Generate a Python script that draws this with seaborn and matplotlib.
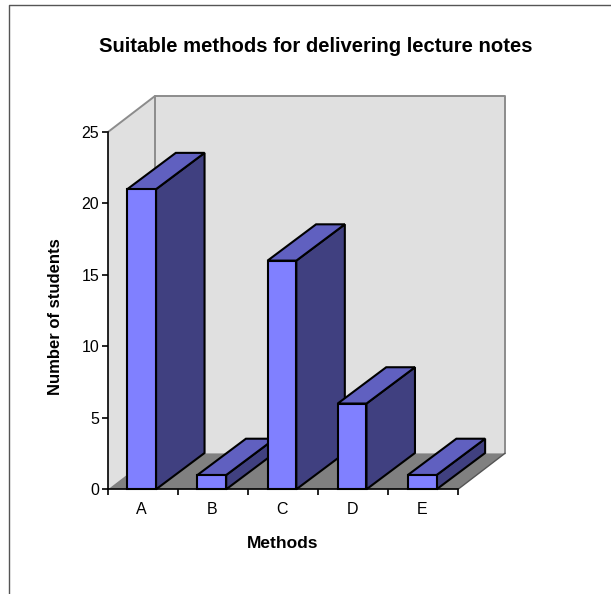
import matplotlib
matplotlib.use("Agg")
import matplotlib.pyplot as plt
from matplotlib.lines import Line2D
from matplotlib.patches import Polygon
import pandas as pd
import seaborn as sns

# values
methods = ["A", "B", "C", "D", "E"]
students = [21, 1, 16, 6, 1]
y_ticks = [0, 5, 10, 15, 20, 25]

FRONT = "#8080FF"
TOP = "#6060C0"
SIDE = "#404080"
WALL = "#E0E0E0"
FLOOR = "#808080"
WALL_EDGE = "#8C8C8C"

W, H = 611, 594

sns.set_style("white")
plt.rcParams["font.family"] = ["Liberation Sans", "DejaVu Sans"]

fig = plt.figure(figsize=(W / 100, H / 100), dpi=100, facecolor="white")

# axes placed by pixel box of the front plane
left, right, top, bottom = 108, 458, 132, 489.3
ax = fig.add_axes([left / W, 1 - bottom / H, (right - left) / W, (bottom - top) / H])
ax.patch.set_alpha(0)

df = pd.DataFrame({"method": methods, "students": students})
sns.barplot(data=df, x="method", y="students", color=FRONT, saturation=1,
            width=0.41, edgecolor="black", linewidth=1.5, ax=ax)
bars = list(ax.containers[0])

xmin, xmax = -0.48, 4.51
ax.set_xlim(xmin, xmax)
ax.set_ylim(0, 25)

# 3d depth converted from pixels to data units
px_x = (xmax - xmin) / (right - left)
px_y = 25 / (bottom - top)
wall_dx, wall_dy = 47 * px_x, 36 * px_y
bar_dx, bar_dy = 48.5 * px_x, 36.3 * px_y

# walls and floor behind the bars
ax.add_patch(Polygon([(xmin, 0), (xmin, 25), (xmin + wall_dx, 25 + wall_dy), (xmin + wall_dx, wall_dy)],
                     closed=True, fc=WALL, ec="none", clip_on=False, zorder=0.5))
ax.add_patch(Polygon([(xmin + wall_dx, wall_dy), (xmin + wall_dx, 25 + wall_dy),
                      (xmax + wall_dx, 25 + wall_dy), (xmax + wall_dx, wall_dy)],
                     closed=True, fc=WALL, ec="none", clip_on=False, zorder=0.5))
ax.add_patch(Polygon([(xmin, 0), (xmin + wall_dx, wall_dy), (xmax + wall_dx, wall_dy), (xmax, 0)],
                     closed=True, fc=FLOOR, ec="none", clip_on=False, zorder=0.6))
ax.plot([xmin, xmin + wall_dx, xmax + wall_dx, xmax + wall_dx],
        [25, 25 + wall_dy, 25 + wall_dy, wall_dy],
        color=WALL_EDGE, lw=1.4, clip_on=False, zorder=0.7)
ax.plot([xmin + wall_dx, xmin + wall_dx], [wall_dy, 25 + wall_dy],
        color=WALL_EDGE, lw=1.4, clip_on=False, zorder=0.7)
ax.plot([xmax, xmax + wall_dx], [0, wall_dy], color="#555555", lw=1, clip_on=False, zorder=0.7)

# side and top faces, built from each seaborn bar, left to right so nearer ones overlap
for i, bar in enumerate(bars):
    x0, x1, h = bar.get_x(), bar.get_x() + bar.get_width(), bar.get_height()
    z = 3 + 2 * i
    ax.add_patch(Polygon([(x1, 0), (x1 + bar_dx, bar_dy), (x1 + bar_dx, h + bar_dy), (x1, h)],
                         closed=True, fc=SIDE, ec="black", lw=1.5, joinstyle="miter",
                         clip_on=False, zorder=z))
    ax.add_patch(Polygon([(x0, h), (x0 + bar_dx, h + bar_dy), (x1 + bar_dx, h + bar_dy), (x1, h)],
                         closed=True, fc=TOP, ec="black", lw=1.5, joinstyle="miter",
                         clip_on=False, zorder=z))
    bar.set_zorder(z + 1)
    bar.set_clip_on(False)

# axes lines and ticks
sns.despine(ax=ax, top=True, right=True)
for s in ["left", "bottom"]:
    ax.spines[s].set_linewidth(1.2)
    ax.spines[s].set_color("black")
    ax.spines[s].set_zorder(20)

ax.set_yticks(y_ticks)
ax.tick_params(axis="y", which="major", left=True, length=4.3, width=1.2, color="black",
               labelsize=11.5, pad=2, labelcolor="black")
ax.set_xticks(range(len(methods)))
ax.set_xticklabels(methods)
ax.tick_params(axis="x", which="major", bottom=False, length=0, labelsize=11.5, pad=9.5, labelcolor="black")
ax.set_xticks([xmin + k * (xmax - xmin) / len(methods) for k in range(len(methods) + 1)], minor=True)
ax.tick_params(axis="x", which="minor", bottom=True, length=4.3, width=1.2, color="black")

ax.set_xlabel("")
ax.set_ylabel("")
fig.text(282.5 / W, 1 - 544 / H, "Methods", fontsize=12.5, fontweight="bold", ha="center", va="center", color="black")
fig.text(55.5 / W, 1 - 317 / H, "Number of students", fontsize=12, fontweight="bold", rotation=90,
         ha="center", va="center", color="black")
fig.text(316 / W, 1 - 46.5 / H, "Suitable methods for delivering lecture notes", fontsize=14.6, fontweight="bold",
         ha="center", va="center", color="black")

# outer chart border, cut off by the crop at right and bottom
fig.add_artist(Line2D([9 / W, 9 / W, 1], [0, 1 - 5 / H, 1 - 5 / H], color="#555555", lw=1))

fig.savefig("out.png", dpi=100)
